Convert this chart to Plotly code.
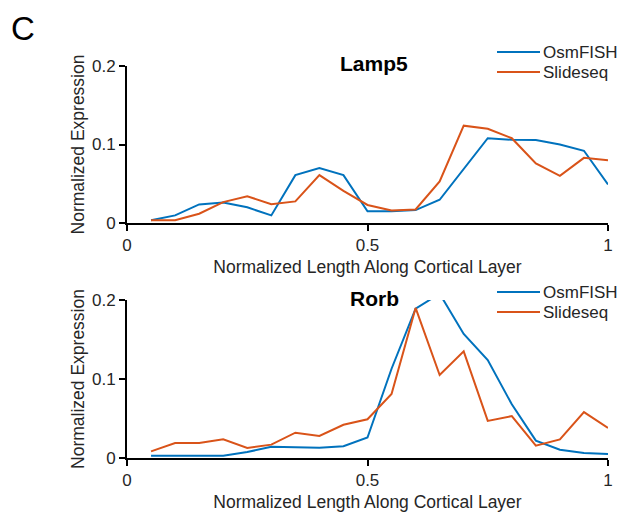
import plotly.graph_objects as go

x_pos = [0.05, 0.1, 0.15, 0.2, 0.25, 0.3, 0.35, 0.4, 0.45, 0.5,
         0.55, 0.6, 0.65, 0.7, 0.75, 0.8, 0.85, 0.9, 0.95, 1.0]

lamp5_osmfish = [0.0034, 0.0097, 0.0237, 0.026, 0.020, 0.0097, 0.061, 0.070, 0.061, 0.015,
                 0.015, 0.0165, 0.0296, 0.069, 0.108, 0.106, 0.1057, 0.100, 0.092, 0.049]
lamp5_slideseq = [0.0034, 0.0034, 0.0118, 0.0266, 0.034, 0.024, 0.0275, 0.061, 0.041, 0.023,
                  0.016, 0.0173, 0.053, 0.124, 0.120, 0.108, 0.076, 0.060, 0.083, 0.080]

rorb_osmfish = [0.003, 0.003, 0.003, 0.003, 0.0075, 0.0143, 0.0135, 0.013, 0.015, 0.026,
                0.113, 0.189, 0.208, 0.157, 0.124, 0.068, 0.022, 0.0105, 0.0063, 0.005]
rorb_slideseq = [0.0084, 0.019, 0.019, 0.0236, 0.0127, 0.0169, 0.032, 0.028, 0.042, 0.049,
                 0.081, 0.190, 0.105, 0.135, 0.047, 0.053, 0.0156, 0.0236, 0.058, 0.038]

series_names = ["OsmFISH", "Slideseq"]
panel_titles = ["Lamp5", "Rorb"]
x_ticks = [0, 0.5, 1]
x_ticklabels = ["0", "0.5", "1"]
y_ticks = [0, 0.1, 0.2]
y_ticklabels = ["0", "0.1", "0.2"]

BLUE = "#0072BD"
ORANGE = "#D95319"
COLORS = [BLUE, ORANGE]
FONT = "Liberation Sans, Arial, sans-serif"
TXT = "#262626"
W, H = 623, 514

fig = go.Figure()
panels = [(lamp5_osmfish, lamp5_slideseq, "x", "y"), (rorb_osmfish, rorb_slideseq, "x2", "y2")]
for osm, slide, xa, ya in panels:
    for vals, name, col in zip([osm, slide], series_names, COLORS):
        fig.add_trace(go.Scatter(x=x_pos, y=vals, mode="lines", name=name,
                                 line=dict(color=col, width=2), xaxis=xa, yaxis=ya,
                                 showlegend=False, hoverinfo="x+y+name"))

# plot area: x 127..608, y 66..458 px
ML, MR, MT, MB = 127, 15, 66, 56
PH = H - MT - MB
top_dom = [(458 - 223) / PH, 1.0]
bot_dom = [0.0, (458 - 300) / PH]

tickfont = dict(family=FONT, size=17, color=TXT)
axis_common = dict(showgrid=False, zeroline=False, showline=True, linecolor="black", linewidth=2,
                   ticks="outside", ticklen=6, tickwidth=1.5, tickcolor="black",
                   tickfont=tickfont, automargin=False)
xcommon = dict(axis_common, range=[0, 1], tickvals=x_ticks, ticktext=x_ticklabels, domain=[0, 1],
               title=dict(text="Normalized Length Along Cortical Layer",
                          font=dict(family=FONT, size=17.5, color=TXT), standoff=6))
ycommon = dict(axis_common, range=[0, 0.2], tickvals=y_ticks, ticktext=y_ticklabels,
               title=dict(text="Normalized Expression",
                          font=dict(family=FONT, size=17.5, color=TXT), standoff=3))

annotations = []
shapes = []
for i, (xa, ya) in enumerate([("x", "y"), ("x2", "y2")]):
    annotations.append(dict(text="<b>" + panel_titles[i] + "</b>", x=(374 - 127) / 481,
                            xref=xa + " domain", y=1, yref=ya + " domain",
                            xanchor="center", yanchor="middle", yshift=3 if i == 0 else 2,
                            showarrow=False, font=dict(family=FONT, size=21, color="black")))
    # legend (top-right of each panel)
    dom_px = (66, 223) if i == 0 else (300, 458)
    rows_px = (52, 72) if i == 0 else (292, 312)
    for name, col, ypx in zip(series_names, COLORS, rows_px):
        yv = (dom_px[1] - ypx) / (dom_px[1] - dom_px[0])
        shapes.append(dict(type="line", xref=xa + " domain", yref=ya + " domain",
                           x0=(497 - 127) / 481, x1=(540 - 127) / 481, y0=yv, y1=yv,
                           line=dict(color=col, width=2)))
        annotations.append(dict(text=name, xref=xa + " domain", yref=ya + " domain",
                                x=(541 - 127) / 481, y=yv, xanchor="left", yanchor="middle",
                                showarrow=False, font=dict(family=FONT, size=17, color=TXT)))

annotations.append(dict(text="C", x=(9 - 127) / 481, xref="paper", y=(458 - 28) / PH, yref="paper",
                        xanchor="left", yanchor="middle", showarrow=False,
                        font=dict(family=FONT, size=33, color="black")))

fig.update_layout(
    width=W, height=H,
    margin=dict(l=ML, r=MR, t=MT, b=MB, autoexpand=False),
    paper_bgcolor="white", plot_bgcolor="white",
    font=dict(family=FONT, size=17, color=TXT),
    xaxis=dict(xcommon, anchor="y"),
    yaxis=dict(ycommon, domain=top_dom, anchor="x"),
    xaxis2=dict(xcommon, anchor="y2"),
    yaxis2=dict(ycommon, domain=bot_dom, anchor="x2"),
    showlegend=False,
    annotations=annotations,
    shapes=shapes,
)

fig.write_html("out.html")
